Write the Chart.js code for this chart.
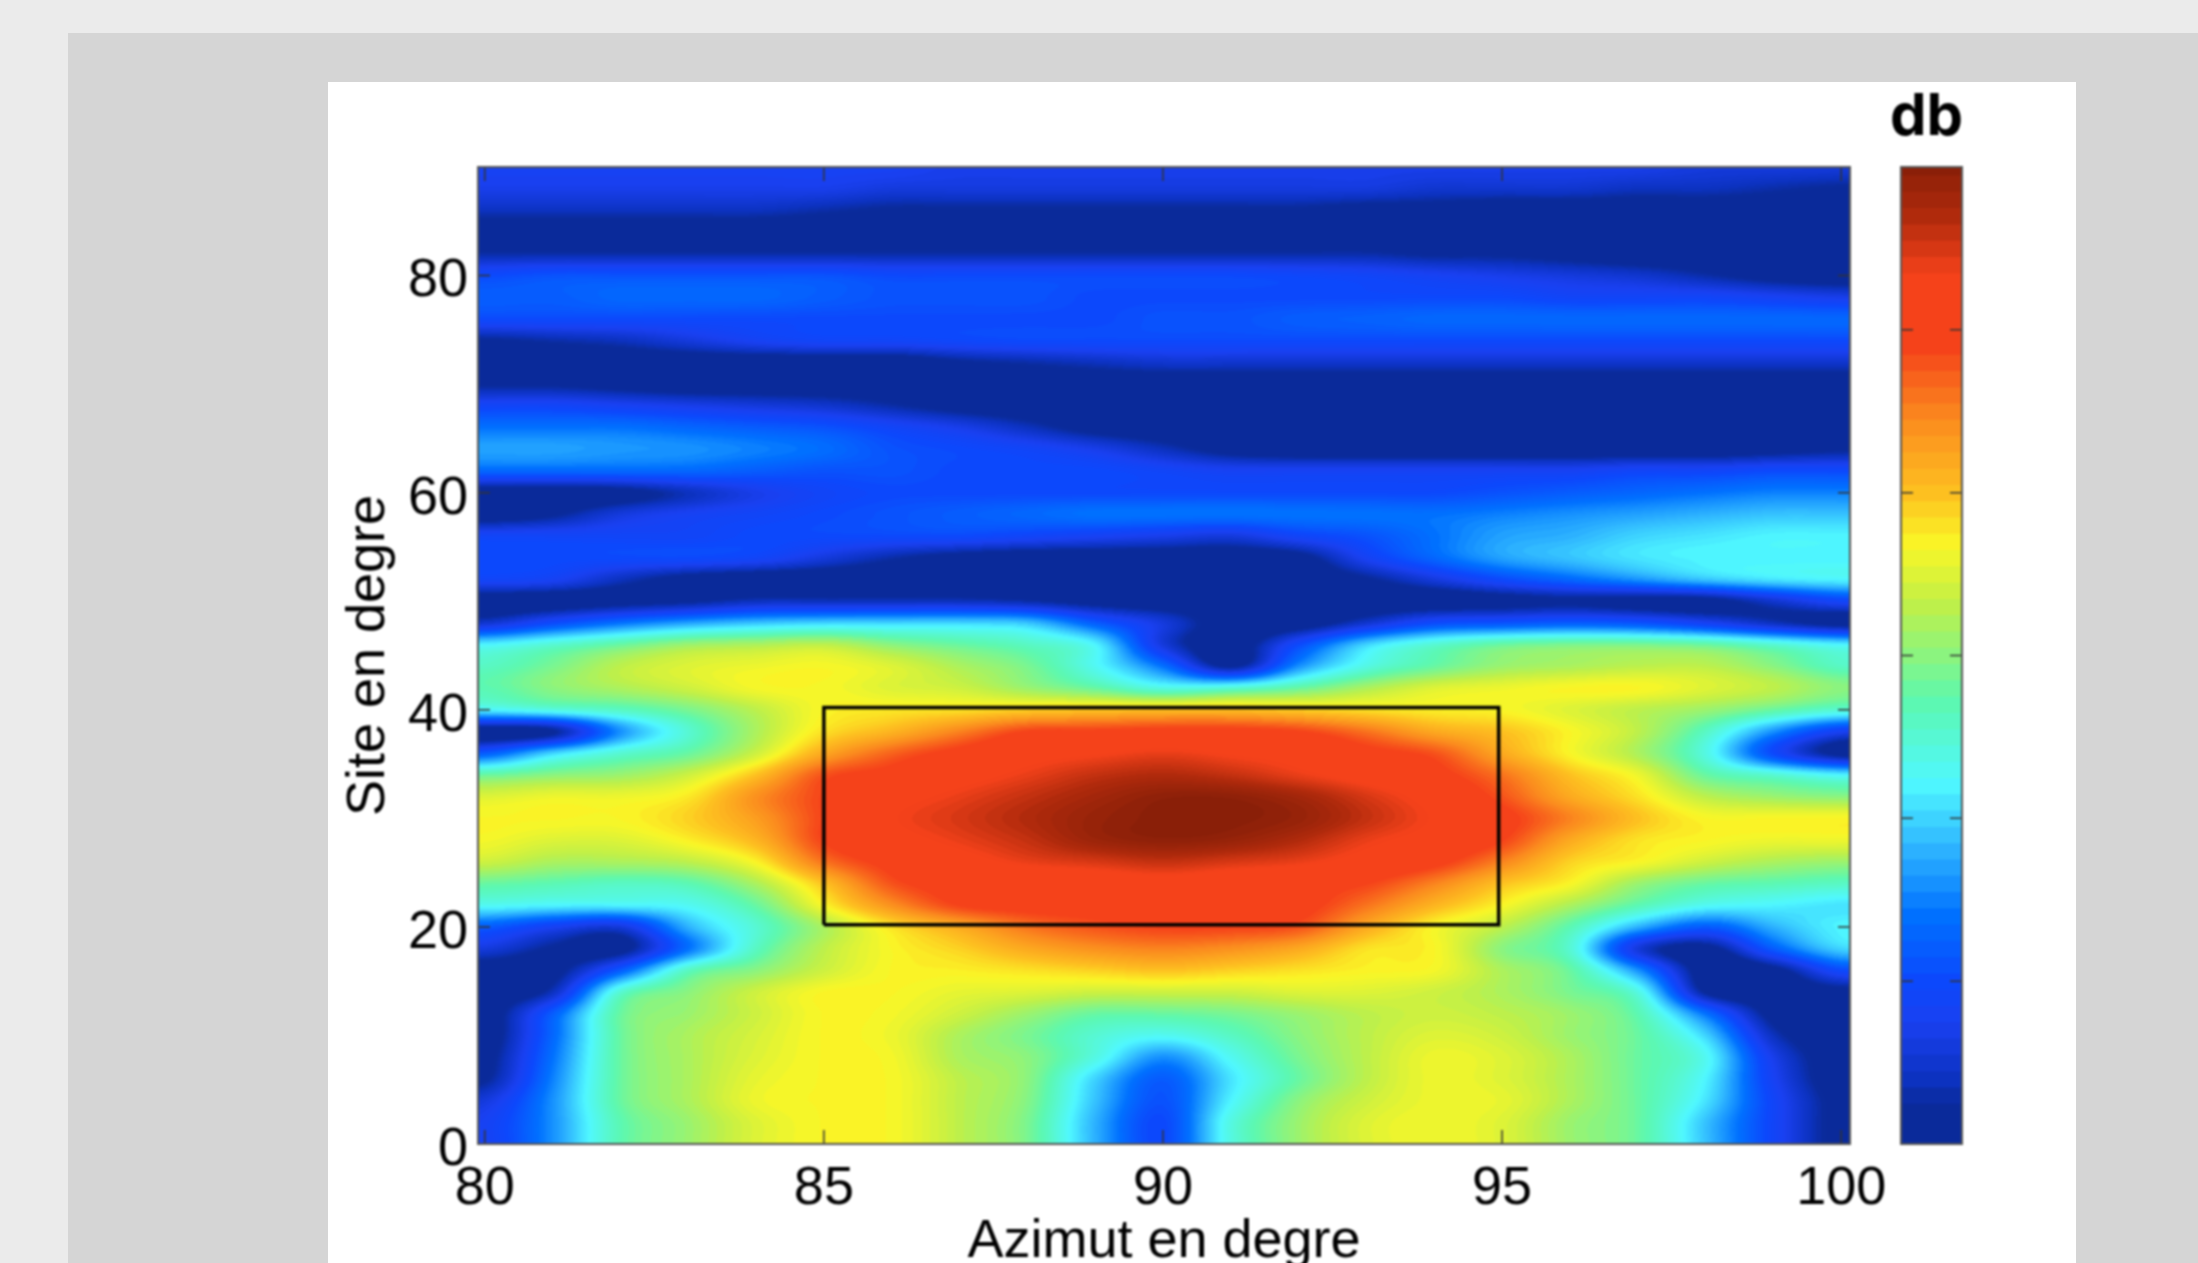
<!DOCTYPE html>
<html>
<head>
<meta charset="utf-8">
<title>Azimut / Site</title>
<script src="https://cdn.jsdelivr.net/npm/chart.js@4"></script>
<style>
  html, body { margin: 0; width: 2198px; height: 1263px; overflow: hidden; background: #ebebeb; }
  #grey { position: absolute; left: 68px; top: 33px; right: 0; bottom: 0; background: #d5d5d5; }
  #white { position: absolute; left: 328px; top: 82px; width: 1748px; bottom: 0; background: #fff; }
  canvas { position: absolute; filter: blur(0.9px); }
  #mapChart { left: 0; top: 0; }
  #barChart { left: 1860px; top: 70px; }
</style>
</head>
<body>
<div id="grey"></div>
<div id="white"></div>
<canvas id="mapChart" width="2198" height="1275"></canvas>
<canvas id="barChart" width="132" height="1076"></canvas>
<script>
const azimuts = [80, 81, 82, 83, 84, 85, 86, 87, 88, 89, 90, 91, 92, 93, 94, 95, 96, 97, 98, 99, 100];
const sites = [90, 88, 86, 84, 82, 80, 78, 76, 74, 72, 70, 68, 66, 64, 62, 60, 58, 56, 54, 52, 50, 48, 46,
  44, 42, 40, 38, 36, 34, 32, 30, 28, 26, 24, 22, 20, 18, 16, 14, 12, 10, 8, 6, 4, 2, 0];

// db, one row per site, one column per azimut
const dbRows = [
  [4, 4, 4, 4, 4, 4, 4, 3.5, 3.5, 3.5, 3.5, 3.5, 3.5, 3.5, 3.5, 3.5, 3.5, 3.5, 3, 3, 3],
  [3.5, 3.5, 3.5, 3.5, 3.5, 3.5, 3, 3, 3, 3, 3, 3, 3, 3, 2.5, 2.5, 2.5, 2, 2, 1.5, 1],
  [2, 2, 2, 2, 2, 1.5, 1, 1, 1, 1, 1, 1, 1, 0.5, 0.5, 0, 0, 0, 0, 0, 0],
  [0, 0, 0, 0, 0, 0, 0, 0, 0, 0, 0, 0, 0, 0, 0, 0, 0, 0, 0, 0, 0],
  [1.5, 1.5, 1.5, 1.5, 1.5, 1.5, 1.5, 1.5, 1.5, 1.5, 1.5, 1.5, 1.5, 1.5, 1, 1, 0.5, 0, 0, 0, 0],
  [5, 5.5, 5.5, 5.5, 5.5, 5.5, 5, 5, 5, 5, 5, 5, 4.8, 4.5, 4, 3.5, 3, 2.5, 1.5, 0.5, 0],
  [6, 6, 6.5, 6.5, 6.5, 6, 5.5, 5.5, 5.5, 5, 5, 5, 5, 5, 5, 5, 4.5, 4.5, 4.5, 4, 3.5],
  [5, 5, 5, 5, 5, 5, 5, 5, 5, 5, 5.5, 5.5, 6, 6.2, 6.5, 6.5, 6.5, 6.5, 6.5, 6.5, 6.5],
  [1, 1.5, 2, 3, 4, 4.5, 4.5, 4.8, 5, 5, 5, 5, 5, 5, 5, 5, 5, 5, 5, 5, 5],
  [0, 0, 0, 0, 0, 0, 0, 1, 1.5, 2, 2.5, 2.5, 2.5, 2.5, 2.5, 2.5, 2.5, 2.5, 2.5, 2.5, 2.5],
  [1, 1, 0.5, 0, 0, 0, 0, 0, 0, 0, 0, 0, 0, 0, 0, 0, 0, 0, 0, 0, 0],
  [4.5, 4.5, 4, 3.5, 3, 2.5, 1.5, 0.5, 0, 0, 0, 0, 0, 0, 0, 0, 0, 0, 0, 0, 0],
  [7, 7, 7, 6.5, 6, 5.5, 4.5, 3.5, 2, 0.5, 0, 0, 0, 0, 0, 0, 0, 0, 0, 0, 0],
  [8.5, 8.5, 8.2, 8, 7.5, 6.8, 5.5, 5, 4.5, 3.5, 2, 0.5, 0, 0, 0, 0, 0, 0, 0, 0.5, 1],
  [6.5, 6.5, 6.5, 6.5, 6, 5.5, 5.5, 5, 5, 5, 4.5, 4, 4, 4, 4, 4, 4, 4.5, 4.5, 5, 5],
  [0, 0, 0.5, 2, 3.5, 4.5, 5, 5, 5, 5, 5, 5, 5, 5, 5, 5.5, 6, 6.5, 7, 7.5, 7.5],
  [0, 1, 3, 4, 4.5, 5, 5.5, 6, 6.5, 7, 7, 7, 7, 7, 7, 7.5, 8, 8.5, 9, 9.5, 9.5],
  [4.5, 4.5, 4.5, 4.5, 5, 5, 5, 5, 4.5, 4, 3.5, 3, 4.5, 5.5, 7, 8.5, 9, 10, 10.5, 11, 11],
  [5, 5, 5, 5, 4.5, 3, 1.5, 0.5, 0, 0, 0, 0, 0.5, 4, 6.5, 8.5, 9.5, 10.5, 11, 11, 11],
  [4.5, 4, 2, 0.5, 0, 0, 0, 0, 0, 0, 0, 0, 0, 1, 3, 5, 6.5, 8, 9.5, 10.5, 11],
  [0, 0, 0.5, 1, 2, 2, 2, 2, 1.5, 0.5, 0, 0, 0, 0, 0, 0.5, 1, 0.5, 0.5, 2.5, 4.5],
  [2.5, 5, 7, 8.5, 9.5, 10, 10, 10, 9.5, 6, 3, 0, 0, 2.5, 5, 5.5, 6, 5.5, 4, 2, 0.5],
  [11, 12.5, 14, 15.5, 16, 16.5, 15, 14, 13, 11, 3, 0, 5, 10, 12.5, 14, 14.5, 14.5, 14, 12.5, 11],
  [13, 14.5, 16.5, 17.5, 18, 18.3, 17.5, 16, 14.5, 11.5, 7, 1, 8, 12, 14, 15.5, 16, 16.5, 16.5, 15, 13],
  [13.5, 15, 16, 17, 18.2, 18.3, 17.5, 17, 15.5, 14, 12, 12.5, 14, 16, 17.5, 18, 18.4, 18.4, 17.5, 16.5, 15],
  [11, 12, 13, 14.5, 16.5, 18.4, 18.8, 19, 19.5, 19.8, 20, 20, 19.5, 19, 18.6, 18.4, 17.5, 16.5, 15.5, 14, 12.5],
  [0, 1, 8, 12.5, 16, 19, 20.5, 22.5, 24.5, 24.7, 25, 25, 24.5, 23, 21, 20, 18.4, 16.5, 13, 8, 4],
  [6, 10, 12.5, 14, 17, 21, 23.5, 25, 26, 26.5, 27, 26.5, 26, 25, 24, 21, 18.4, 16, 12, 5, 0.5],
  [14, 15, 15.5, 17, 20, 24, 25, 26, 27, 28, 28.5, 28, 27, 26, 25, 23, 20, 18, 14, 12.5, 11],
  [17.5, 18, 18, 18.8, 22, 24.5, 26, 27, 28, 29, 29.8, 29.8, 29, 27.5, 26, 24, 21, 19, 16.5, 15.5, 15],
  [18.4, 18.4, 18.4, 19.5, 21.5, 24.5, 26.5, 27.5, 28.5, 29.5, 30, 30, 29.5, 28, 26.5, 25, 22.5, 20, 18.4, 18.4, 18.4],
  [18.2, 17.5, 17.5, 18.6, 20.5, 24.5, 26, 27, 28, 29.3, 29.8, 29.5, 28.5, 27, 26, 24.5, 21, 19, 18.4, 18, 18],
  [17, 16, 16, 16.5, 18.5, 23, 25, 26, 27, 27.5, 28, 27.5, 27, 26, 25, 22.5, 19.5, 18.4, 17, 16, 15.5],
  [14, 13.5, 13, 13.5, 16, 20, 24, 25, 25, 25.5, 26, 25.5, 25, 24.5, 22.5, 20, 18.4, 15.5, 14, 13.5, 13],
  [11.5, 11, 11, 11.5, 14, 18.4, 22, 24.5, 25, 25, 25, 25, 25, 23, 20.5, 18.4, 16, 13.5, 11.5, 11, 10.5],
  [6, 4, 3, 9, 12.5, 16, 19, 21, 23, 24, 24.5, 24.5, 24, 21, 18.4, 16.5, 13.5, 9, 6, 9, 11],
  [3, 1, 0.5, 7, 13, 16.5, 18.4, 19.5, 21, 22, 22.5, 22, 21, 19, 18.4, 15, 12.5, 3, 0.5, 6, 10],
  [0, 0.5, 6, 13, 15, 17, 18.4, 18.6, 19, 19.5, 20, 19.5, 19, 18.5, 18.2, 16, 14, 8, 0, 0.5, 5],
  [0, 2, 12.5, 15, 17, 18.4, 18.4, 17.8, 17.5, 17, 17, 17, 17.5, 17.5, 17, 16, 14.5, 12, 1, 0, 0.5],
  [0, 6, 14, 15.5, 17, 18.4, 18.2, 17, 15.5, 14, 14, 14.5, 15.5, 16.5, 17, 16.5, 15.5, 13.5, 7, 0.5, 0],
  [0, 6.5, 14, 16, 17.3, 18.4, 18, 16, 14.5, 12.5, 11.5, 13, 15, 16.5, 17.5, 17, 15.5, 14, 10, 2, 0],
  [0.5, 7, 14, 16, 17.5, 18.4, 18.2, 16, 15, 12, 8, 11.5, 14.5, 16.5, 18, 17.5, 16, 14, 11.5, 3.5, 0],
  [1, 7.5, 14, 16, 17.8, 18.4, 18.3, 16.5, 15, 10, 6, 10.5, 14, 16.5, 18, 17.5, 16, 14, 11, 4, 0],
  [3, 8, 14, 16, 18, 18.4, 18.3, 16.5, 14.8, 9.5, 5.5, 11, 15, 17, 18, 17.8, 16, 14, 10.5, 4.5, 0.5],
  [4, 8, 13.5, 15.5, 17.5, 18.4, 18.3, 16.5, 14.5, 9, 5, 12, 15.5, 17.5, 18.1, 17.5, 15.5, 14, 9.5, 4.5, 0.5],
  [4, 8, 13.5, 15.5, 17.5, 18.4, 18.3, 16.5, 14.5, 9, 5, 12, 15.5, 17.5, 18.1, 17.5, 15.5, 14, 9.5, 4.5, 0.5]
];

const xTickValues = [80, 85, 90, 95, 100];
const yTickValues = [0, 20, 40, 60, 80];
const boxAzimuts = [85, 94.95, 94.95, 85, 85];
const boxSites = [20.2, 20.2, 40.2, 40.2, 20.2];

// colorbar
const dbLevels = [0, 0.5, 1, 1.5, 2, 2.5, 3, 3.5, 4, 4.5, 5, 5.5, 6, 6.5, 7, 7.5, 8, 8.5, 9, 9.5,
  10, 10.5, 11, 11.5, 12, 12.5, 13, 13.5, 14, 14.5, 15, 15.5, 16, 16.5, 17, 17.5, 18, 18.5, 19, 19.5,
  20, 20.5, 21, 21.5, 22, 22.5, 23, 23.5, 24, 24.5, 25, 25.5, 26, 26.5, 27, 27.5, 28, 28.5, 29, 29.5, 30];
const dbTicks = [5, 10, 15, 20, 25];
const stopDb = [0, 1.2, 2, 3.7, 5, 7, 9.2, 11.1, 13.6, 16.6, 18.4, 20, 22.3, 24.5, 26.7, 28.5, 30];
const stopColors = ['#0a2a9a', '#0a2a9a', '#0c32c0', '#1a40f0', '#0c48fc', '#0070ff', '#30b8ff', '#50f8ff',
  '#5cf8b0', '#c0f048', '#faf626', '#fdc020', '#fb8a1e', '#f5421a', '#f5421a', '#b02a0c', '#8a1f08'];

const stopRgb = stopColors.map(c => [1, 3, 5].map(i => parseInt(c.slice(i, i + 2), 16)));

const dbToRgb = (db) => {
  const v = Math.max(0, Math.min(30, db));
  let i = 0;
  while (i < stopDb.length - 2 && v > stopDb[i + 1]) i++;
  const f = (v - stopDb[i]) / (stopDb[i + 1] - stopDb[i]);
  return stopRgb[i].map((c, k) => Math.round(c + (stopRgb[i + 1][k] - c) * f));
};

const cubic = (a, b, c, d, t) =>
  b + 0.5 * t * (c - a + t * (2 * a - 5 * b + 4 * c - d + t * (3 * (b - c) + d - a)));

const pick = (row, col) => {
  const r = Math.max(0, Math.min(dbRows.length - 1, row));
  const c = Math.max(0, Math.min(azimuts.length - 1, col));
  return dbRows[r][c];
};

// the cells are shaded like matlab's "shading interp", the grid itself stays as read
const shade = (az, site) => {
  const cf = az - azimuts[0];
  const rf = (sites[0] - site) / 2;
  const c0 = Math.floor(cf);
  const r0 = Math.floor(rf);
  const rowVals = [-1, 0, 1, 2].map(dr =>
    cubic(pick(r0 + dr, c0 - 1), pick(r0 + dr, c0), pick(r0 + dr, c0 + 1), pick(r0 + dr, c0 + 2), cf - c0));
  return cubic(rowVals[0], rowVals[1], rowVals[2], rowVals[3], rf - r0);
};

const heatPlugin = {
  id: 'heat',
  beforeDatasetsDraw(chart) {
    const { ctx, chartArea: a, scales: { x, y } } = chart;
    const w = Math.round(a.right - a.left);
    const h = Math.round(a.bottom - a.top);
    const img = ctx.createImageData(w, h);
    for (let j = 0; j < h; j++) {
      const site = y.getValueForPixel(a.top + j + 0.5);
      for (let i = 0; i < w; i++) {
        const az = x.getValueForPixel(a.left + i + 0.5);
        const rgb = dbToRgb(Math.round(shade(az, site) * 4) / 4);
        const p = (j * w + i) * 4;
        img.data[p] = rgb[0];
        img.data[p + 1] = rgb[1];
        img.data[p + 2] = rgb[2];
        img.data[p + 3] = 255;
      }
    }
    ctx.putImageData(img, Math.round(a.left), Math.round(a.top));
  }
};

// matlab style inner ticks and frame
const frameTicks = {
  id: 'frameTicks',
  afterDraw(chart, args, opts) {
    const { ctx, chartArea: a } = chart;
    ctx.save();
    ctx.strokeStyle = '#333';
    ctx.lineWidth = 1.5;
    ctx.beginPath();
    (opts.xValues || []).forEach(v => {
      const px = chart.scales.x.getPixelForValue(v);
      ctx.moveTo(px, a.bottom); ctx.lineTo(px, a.bottom - 14);
      ctx.moveTo(px, a.top); ctx.lineTo(px, a.top + 14);
    });
    (opts.yValues || []).forEach(v => {
      const py = chart.scales.y.getPixelForValue(v);
      ctx.moveTo(a.left, py); ctx.lineTo(a.left + 12, py);
      ctx.moveTo(a.right, py); ctx.lineTo(a.right - 12, py);
    });
    ctx.stroke();
    ctx.strokeStyle = '#555';
    ctx.lineWidth = 2;
    ctx.strokeRect(a.left, a.top, a.right - a.left, a.bottom - a.top);
    ctx.restore();
  }
};

const labelFont = { family: '"Liberation Sans", Arial, sans-serif', size: 54 };

// the y labels sit a little under their ticks in the original
const yLabels = {
  id: 'yLabels',
  afterDraw(chart) {
    const { ctx, chartArea: a, scales: { y } } = chart;
    ctx.save();
    ctx.font = `${labelFont.size}px ${labelFont.family}`;
    ctx.fillStyle = '#000';
    ctx.textAlign = 'right';
    ctx.textBaseline = 'middle';
    yTickValues.forEach(v => ctx.fillText(String(v), a.left - 10, y.getPixelForValue(v) + 6));
    ctx.restore();
  }
};

const barTitle = {
  id: 'barTitle',
  afterDraw(chart) {
    const { ctx, chartArea: a } = chart;
    ctx.save();
    ctx.font = 'bold 58px Inter, sans-serif';
    ctx.fillStyle = '#000';
    ctx.textAlign = 'center';
    ctx.textBaseline = 'middle';
    ctx.fillText('db', (a.left + a.right) / 2 - 5, a.top - 49);
    ctx.restore();
  }
};

new Chart(document.getElementById('mapChart'), {
  type: 'scatter',
  data: {
    datasets: [{
      label: 'Zone',
      data: boxAzimuts.map((az, i) => ({ x: az, y: boxSites[i] })),
      showLine: true,
      borderColor: '#000',
      borderWidth: 3.5,
      pointRadius: 0,
      tension: 0
    }]
  },
  options: {
    responsive: false,
    animation: false,
    layout: { padding: { left: 316, top: 167, right: 348, bottom: 0 } },
    plugins: {
      legend: { display: false },
      tooltip: { enabled: false },
      frameTicks: { xValues: xTickValues, yValues: yTickValues }
    },
    scales: {
      x: {
        type: 'linear',
        min: 79.9,
        max: 100.13,
        afterBuildTicks: (s) => { s.ticks = xTickValues.map(v => ({ value: v })); },
        afterFit: (s) => { s.height = 131; },
        grid: { display: false },
        border: { display: false },
        ticks: { color: '#000', font: labelFont, padding: 5, maxRotation: 0, autoSkip: false },
        title: { display: true, text: 'Azimut en degre', color: '#000', font: labelFont, padding: 0 }
      },
      y: {
        type: 'linear',
        min: 0,
        max: 90,
        afterBuildTicks: (s) => { s.ticks = yTickValues.map(v => ({ value: v })); },
        afterFit: (s) => { s.width = 162; },
        grid: { display: false },
        border: { display: false },
        ticks: { display: false },
        title: { display: true, text: 'Site en degre', color: '#000', font: labelFont, padding: { top: 21, bottom: 0 } }
      }
    }
  },
  plugins: [heatPlugin, frameTicks, yLabels]
});

new Chart(document.getElementById('barChart'), {
  type: 'bar',
  data: {
    labels: dbLevels,
    datasets: [{
      label: 'db',
      data: dbLevels.map(l => ({ x: [0, 1], y: l })),
      backgroundColor: dbLevels.map(l => { const c = dbToRgb(l); return `rgb(${c[0]},${c[1]},${c[2]})`; }),
      borderWidth: 0,
      barPercentage: 1.05,
      categoryPercentage: 1
    }]
  },
  options: {
    indexAxis: 'y',
    responsive: false,
    animation: false,
    layout: { padding: { left: 41, right: 30, top: 97, bottom: 2 } },
    plugins: {
      legend: { display: false },
      tooltip: { enabled: false },
      frameTicks: { yValues: dbTicks }
    },
    scales: {
      x: { type: 'linear', min: 0, max: 1, display: false },
      y: { type: 'linear', min: 0, max: 30, offset: false, display: false }
    }
  },
  plugins: [frameTicks, barTitle]
});
</script>
</body>
</html>
